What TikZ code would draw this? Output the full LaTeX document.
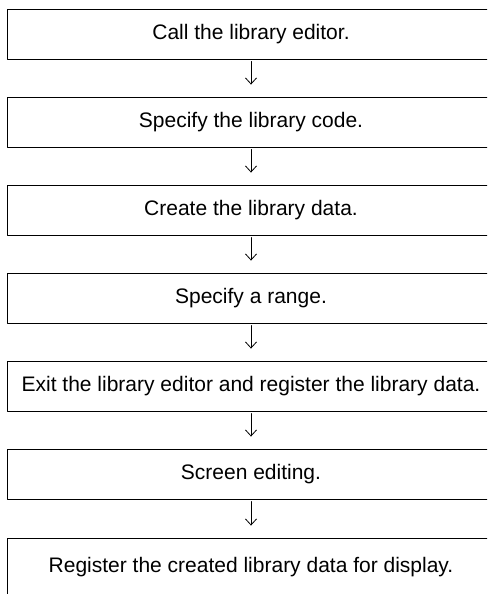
\documentclass[tikz,border=0pt]{standalone}
\usepackage{fontspec}
\setmainfont{Liberation Sans}
\usetikzlibrary{arrows.meta}
\tikzset{
    stepbox/.style={
        draw, line width=0.9pt, inner sep=0pt,
        minimum width=488pt, minimum height=50pt,
        font=\fontsize{21}{25}\selectfont
    },
    down/.style={
        -{Straight Barb[length=6pt,width=11pt]}, line width=0.8pt,
        shorten <=2pt, shorten >=12pt
    }
}

\begin{document}
\begin{tikzpicture}[x=1pt,y=1pt,line cap=round,line join=round]

% --- canvas ---
    \useasboundingbox (0,0) rectangle (487,-594);
    \clip (0,0) rectangle (487,-594);

% --- steps (right edge runs past the page) ---
    \def\cx{251}                          % centre of every box
    \node[stepbox] (s1) at (\cx, -34) {Call the library editor.};
    \node[stepbox] (s2) at (\cx,-122) {Specify the library code.};
    \node[stepbox] (s3) at (\cx,-210) {Create the library data.};
    \node[stepbox] (s4) at (\cx,-298) {Specify a range.};
    \node[stepbox] (s5) at (\cx,-386) {Exit the library editor and register the library data.};
    \node[stepbox] (s6) at (\cx,-474) {Screen editing.};
    \node[stepbox, minimum height=58pt] (s7) at (\cx,-567) {Register the created library data for display.};

% --- arrows ---
    \foreach \a/\b in {s1/s2,s2/s3,s3/s4,s4/s5,s5/s6,s6/s7}
        \draw[down] (\a) -- (\b);

\end{tikzpicture}
\end{document}
